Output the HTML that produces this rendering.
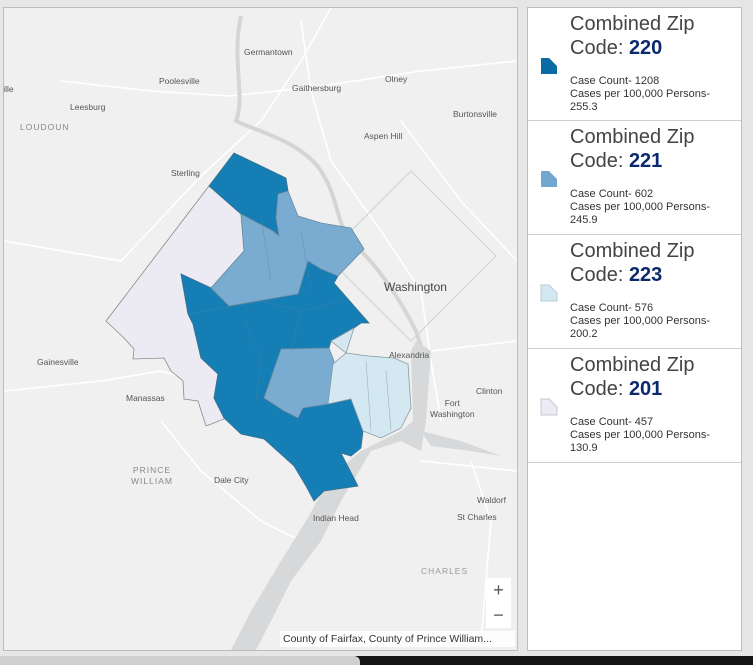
<!DOCTYPE html>
<html><head><meta charset="utf-8"><style>
body{margin:0;width:753px;height:665px;background:#e6e6e6;overflow:hidden;font-family:"Liberation Sans",sans-serif;position:relative}
#map{position:absolute;left:3px;top:7px;width:513px;height:642px;border:1px solid #bdbdbd;background:#f0f0f0;overflow:hidden}
#leg{position:absolute;left:527px;top:7px;width:213px;height:642px;border:1px solid #bdbdbd;background:#fff}
.it{position:relative;height:112px;border-bottom:1px solid #cfcfcf}
.t{position:absolute;left:42px;top:4px;font-size:20px;line-height:24px;color:#444}
.t b{color:#0b2a6e}
.s{position:absolute;left:42px;top:67px;font-size:11px;line-height:13px;color:#333}
.sw{position:absolute;left:12px;top:48px}
.lb{position:absolute;font-size:8.5px;color:#555}
</style></head><body>
<div id="map">
<svg width="513" height="642" viewBox="3 7 513 642" style="position:absolute;left:0;top:0">
<g fill="none" stroke="#fff" stroke-width="1.6">
<path d="M3 240 L120 260 L200 175 L260 120 L300 60 L330 7"/>
<path d="M3 390 L100 380 L160 370 L230 390"/>
<path d="M60 80 L150 90 L230 95 L320 85 L420 70 L516 60"/>
<path d="M300 20 L310 90 L330 160 L380 230 L420 290 L430 360 L440 420"/>
<path d="M400 120 L460 200 L516 260"/>
<path d="M430 350 L516 340"/>
<path d="M420 460 L516 470"/>
<path d="M160 420 L200 470 L260 520 L300 540"/>
<path d="M480 640 L490 520 L470 460"/>
</g>
<g fill="none" stroke="#cfd0d2" stroke-width="1"><path d="M410 170 L495 255 L410 340 L325 255 Z"/></g>
<path d="M240 15 C230 60 245 95 235 120 C255 130 300 140 320 170 C340 200 335 235 360 250 C380 270 400 300 415 330 L425 360" fill="none" stroke="#d3d5d7" stroke-width="4"/>
<path d="M415 340 L430 350 L425 420 L420 450 L400 440 L370 450 L340 500 L320 540 L290 580 L270 620 L255 649 L230 649 L250 610 L280 560 L305 520 L330 475 L360 450 L400 430 L412 420 L410 350 Z" fill="#d6d8da"/>
<path d="M420 430 L460 440 L500 455 L470 450 L430 445 Z" fill="#d6d8da"/>
<path d="M208,185 L240,213 L243,250 L210,287 L180,273 L187,313 L192,323 L200,357 L217,373 L213,397 L223,417 L223,418 L205,425 L197,400 L183,398 L182,380 L170,370 L163,357 L132,358 L133,348 L123,337 L105,320 Z" fill="#eceaf3" stroke="#8a8a8a" stroke-width="0.8"/>
<path d="M180,273 L210,287 L228,305 L297,293 L307,260 L320,268 L337,275 L333,282 L368,322 L360,322 L353,327 L330,340 L328,347 L280,348 L263,397 L283,410 L297,417 L302,407 L327,403 L350,398 L362,430 L360,447 L350,455 L340,452 L357,485 L323,490 L313,500 L305,485 L293,465 L263,438 L240,433 L223,417 L213,397 L217,373 L200,357 L192,323 L187,313 Z" fill="#157fb5" stroke="#3d6e8e" stroke-width="0.8"/>
<path d="M208,185 L233,152 L285,177 L287,190 L277,193 L275,217 L278,235 L272,230 L240,213 Z" fill="#157fb5" stroke="#3d6e8e" stroke-width="0.8"/>
<path d="M240,213 L272,230 L278,235 L275,217 L277,193 L287,190 L297,215 L320,222 L350,227 L363,248 L337,275 L320,268 L307,260 L297,293 L228,305 L210,287 L243,250 Z" fill="#79acd0" stroke="#6a8aa3" stroke-width="0.8"/>
<path d="M280,348 L328,347 L333,360 L327,403 L302,407 L297,417 L283,410 L263,397 Z" fill="#79acd0" stroke="#6a8aa3" stroke-width="0.8"/>
<path d="M330,340 L353,327 L345,352 L332,363 L327,403 L350,398 L362,430 L380,437 L400,427 L410,407 L407,363 L393,357 L367,355 L345,352 Z" fill="#d3e8f0" stroke="#8a9aa3" stroke-width="0.8"/>
<g fill="none" stroke="#5a7f9a" stroke-width="0.5" opacity="0.6">
<path d="M187 313 L260 300 L300 310 L340 300"/><path d="M245 320 L260 360 L255 400"/><path d="M300 310 L290 350"/><path d="M260 215 L270 280"/><path d="M300 230 L310 290"/><path d="M365 360 L370 430"/><path d="M385 370 L390 430"/>
</g>
</svg>
<div class="lb" style="left:240px;top:39px">Germantown</div>
<div class="lb" style="left:155px;top:68px">Poolesville</div>
<div class="lb" style="left:288px;top:75px">Gaithersburg</div>
<div class="lb" style="left:381px;top:66px">Olney</div>
<div class="lb" style="left:-5px;top:76px">ville</div>
<div class="lb" style="left:66px;top:94px">Leesburg</div>
<div class="lb" style="left:449px;top:101px">Burtonsville</div>
<div class="lb" style="left:16px;top:114px;letter-spacing:1px;color:#888">LOUDOUN</div>
<div class="lb" style="left:360px;top:123px">Aspen Hill</div>
<div class="lb" style="left:167px;top:160px">Sterling</div>
<div class="lb" style="left:380px;top:272px;font-size:12px;color:#444">Washington</div>
<div class="lb" style="left:33px;top:349px">Gainesville</div>
<div class="lb" style="left:385px;top:342px">Alexandria</div>
<div class="lb" style="left:122px;top:385px">Manassas</div>
<div class="lb" style="left:472px;top:378px">Clinton</div>
<div class="lb" style="left:426px;top:390px;line-height:11px;text-align:center">Fort<br>Washington</div>
<div class="lb" style="left:127px;top:457px;letter-spacing:1px;color:#888;line-height:11px;text-align:center">PRINCE<br>WILLIAM</div>
<div class="lb" style="left:210px;top:467px">Dale City</div>
<div class="lb" style="left:473px;top:487px">Waldorf</div>
<div class="lb" style="left:453px;top:504px">St Charles</div>
<div class="lb" style="left:309px;top:505px">Indian Head</div>
<div class="lb" style="left:417px;top:558px;letter-spacing:1px;color:#999">CHARLES</div>
<div style="position:absolute;left:482px;top:570px;width:25px;height:50px;background:#fff;color:#555;font-size:18px;text-align:center;line-height:25px">+<br>−</div>
<div style="position:absolute;left:276px;top:623px;width:232px;height:16px;background:rgba(255,255,255,.85);font-size:10.5px;color:#333;line-height:16px;padding-left:3px">County of Fairfax, County of Prince William...</div>
</div>
<div id="leg">
<div class="it"><svg class="sw" width="20" height="20"><path d="M1 2 L9 2 L17 10 L17 18 L1 18 Z" fill="#0a6ba4"/></svg><div class="t">Combined Zip<br>Code: <b>220</b></div><div class="s">Case Count- 1208<br>Cases per 100,000 Persons-<br>255.3</div></div>
<div class="it" style="height:113px"><svg class="sw" width="20" height="20"><path d="M1 2 L9 2 L17 10 L17 18 L1 18 Z" fill="#72a8cf"/></svg><div class="t">Combined Zip<br>Code: <b>221</b></div><div class="s">Case Count- 602<br>Cases per 100,000 Persons-<br>245.9</div></div>
<div class="it" style="height:113px"><svg class="sw" width="20" height="20"><path d="M1 2 L9 2 L17 10 L17 18 L1 18 Z" fill="#d3e8f0" stroke="#b9cbd3"/></svg><div class="t">Combined Zip<br>Code: <b>223</b></div><div class="s">Case Count- 576<br>Cases per 100,000 Persons-<br>200.2</div></div>
<div class="it" style="height:113px"><svg class="sw" width="20" height="20"><path d="M1 2 L9 2 L17 10 L17 18 L1 18 Z" fill="#eceaf3" stroke="#c9c7d0"/></svg><div class="t">Combined Zip<br>Code: <b>201</b></div><div class="s">Case Count- 457<br>Cases per 100,000 Persons-<br>130.9</div></div>
</div>
<div style="position:absolute;left:0;top:656px;width:753px;height:9px;background:#141414"></div>
<div style="position:absolute;left:0;top:656px;width:360px;height:9px;background:#cfcfcf;border-radius:0 6px 0 0"></div>
</body></html>
